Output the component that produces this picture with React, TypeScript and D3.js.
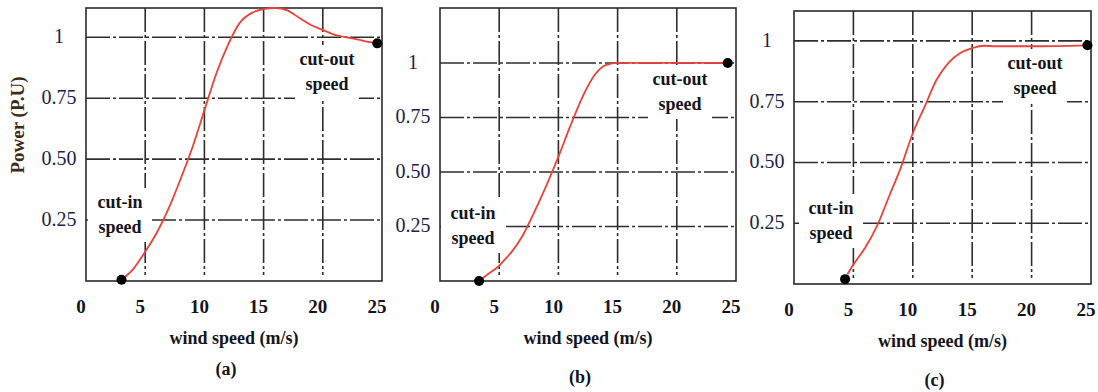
import React from "react";
import * as d3 from "d3";

// ---------- data ----------
const xTicks = [0, 5, 10, 15, 20, 25];
const yTicks = [0.25, 0.5, 0.75, 1];
const yTickLabels = ["0.25", "0.50", "0.75", "1"];
const panelNames = ["(a)", "(b)", "(c)"];
const xTitle = "wind speed (m/s)";
const yTitle = "Power (P.U)";

const curveA: [number, number][] = [
  [3.0, 0.005], [4.0, 0.05], [5.0, 0.12], [6.0, 0.2], [7.0, 0.3], [8.0, 0.42],
  [9.0, 0.55], [10.0, 0.7], [11.0, 0.85], [12.0, 0.97], [13.0, 1.06], [14.0, 1.1],
  [15.0, 1.115], [16.0, 1.12], [17.0, 1.11], [18.0, 1.08], [19.0, 1.05], [20.0, 1.03],
  [21.0, 1.01], [22.0, 1.0], [23.0, 0.99], [24.0, 0.98], [24.6, 0.975],
];
const curveB: [number, number][] = [
  [3.3, 0.0], [4.0, 0.03], [5.0, 0.07], [5.5, 0.1], [6.0, 0.13], [7.0, 0.21],
  [8.0, 0.32], [9.0, 0.44], [10.0, 0.57], [11.0, 0.71], [12.0, 0.84], [13.0, 0.94],
  [14.0, 0.99], [15.0, 1.0], [20.0, 1.0], [24.3, 1.0],
];
const curveC: [number, number][] = [
  [4.5, 0.04], [5.0, 0.08], [6.0, 0.15], [7.0, 0.24], [8.0, 0.36], [9.0, 0.48],
  [10.0, 0.62], [11.0, 0.73], [12.0, 0.84], [13.0, 0.91], [14.0, 0.95], [15.0, 0.97],
  [16.0, 0.98], [17.0, 0.978], [20.0, 0.978], [24.7, 0.982],
];
const cutInPoints: [number, number][] = [[3.0, 0.005], [3.3, 0.0], [4.3, 0.02]];
const cutOutPoints: [number, number][] = [[24.6, 0.975], [24.3, 1.0], [24.7, 0.982]];
const curves = [curveA, curveB, curveC];

// ---------- layout ----------
const layouts = [
  { left: 86, right: 382, top: 8, bottom: 281, yMax: 1.12, nameY: 375,
    cutIn: { x: 120, y: 202 }, cutOut: { x: 327, y: 59 } },
  { left: 440, right: 736, top: 8, bottom: 281, yMax: 1.252, nameY: 383,
    cutIn: { x: 473, y: 213 }, cutOut: { x: 680, y: 79 } },
  { left: 794, right: 1091, top: 11, bottom: 284, yMax: 1.123, nameY: 386,
    cutIn: { x: 831, y: 208 }, cutOut: { x: 1035, y: 63 } },
];

const serif = "Liberation Serif, Tinos, Times New Roman, DejaVu Serif, serif";
const gridColor = "#2e2e2e";
const dash = "24,3,3,3";

function Label({ x, y, lines }: { x: number; y: number; lines: string[] }) {
  return (
    <g>
      <rect x={x - 32} y={y - 14} width={64} height={lines.length * 25 + 4} fill="#fff" />
      {lines.map((t, i) => (
        <text key={i} x={x} y={y + i * 25 + 6} textAnchor="middle"
          style={{ fontFamily: serif, fontWeight: 700, fontSize: 18 }} fill="#141420">{t}</text>
      ))}
    </g>
  );
}

function Panel({ idx }: { idx: number }) {
  const L = layouts[idx];
  const x = d3.scaleLinear().domain([0, 25]).range([L.left, L.right]);
  const y = d3.scaleLinear().domain([0, L.yMax]).range([L.bottom, L.top]);
  const line = d3.line<[number, number]>().x(d => x(d[0])).y(d => y(d[1])).curve(d3.curveMonotoneX);
  const cx = (L.left + L.right) / 2;
  return (
    <g>
      {yTicks.map(v => (
        <line key={"h" + v} x1={L.left} x2={L.right} y1={y(v)} y2={y(v)} stroke={gridColor}
          strokeWidth={1.6} strokeDasharray={dash} />
      ))}
      {xTicks.slice(1, -1).map(v => (
        <line key={"v" + v} x1={x(v)} x2={x(v)} y1={L.top} y2={L.bottom - 6} stroke={gridColor}
          strokeWidth={1.6} strokeDasharray={dash} />
      ))}
      <Label x={L.cutIn.x} y={L.cutIn.y} lines={["cut-in", "speed"]} />
      <Label x={L.cutOut.x} y={L.cutOut.y} lines={["cut-out", "speed"]} />
      <rect x={L.left} y={L.top} width={L.right - L.left} height={L.bottom - L.top} fill="none"
        stroke="#2a2a2a" strokeWidth={1.6} />
      <path d={line(curves[idx]) || ""} fill="none" stroke="#e8433b" strokeWidth={1.8} />
      <circle cx={x(cutInPoints[idx][0])} cy={y(cutInPoints[idx][1])} r={5} fill="#000" />
      <circle cx={x(cutOutPoints[idx][0])} cy={y(cutOutPoints[idx][1])} r={5} fill="#000" />
      {yTicks.map((v, i) => (
        <text key={"yl" + v} x={L.left - 27} y={y(v) + 6} textAnchor="middle"
          style={{ fontFamily: serif, fontSize: 20 }} fill="#1c2248">{yTickLabels[i]}</text>
      ))}
      {xTicks.map(v => (
        <text key={"xl" + v} x={x(v) - 5} y={L.bottom + 32} textAnchor="middle"
          style={{ fontFamily: serif, fontWeight: 700, fontSize: 19 }} fill="#141420">{v}</text>
      ))}
      <text x={cx} y={L.bottom + 63} textAnchor="middle"
        style={{ fontFamily: serif, fontWeight: 700, fontSize: 18 }} fill="#141420">{xTitle}</text>
      <text x={cx - 8} y={L.nameY} textAnchor="middle"
        style={{ fontFamily: serif, fontWeight: 700, fontSize: 18 }} fill="#141420">{panelNames[idx]}</text>
    </g>
  );
}

export default function App() {
  return (
    <svg width={1098} height={392} style={{ position: "absolute", left: 0, top: 0, background: "#fff" }}>
      <rect x={0} y={0} width={1098} height={392} fill="#fff" />
      {layouts.map((_, i) => <Panel key={i} idx={i} />)}
      <text transform="translate(24,125) rotate(-90)" textAnchor="middle"
        style={{ fontFamily: serif, fontWeight: 700, fontSize: 19 }} fill="#3e2a18">{yTitle}</text>
    </svg>
  );
}
